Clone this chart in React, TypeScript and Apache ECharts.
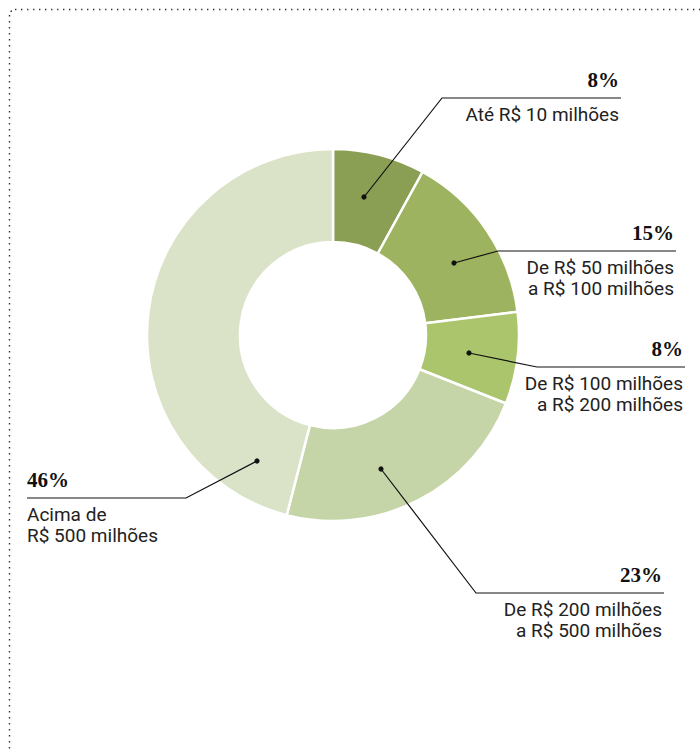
import React, { useEffect, useRef } from "react";
import * as echarts from "echarts";

// ---- data ----
const categories = [
  "Até R$ 10 milhões",
  "De R$ 50 milhões\na R$ 100 milhões",
  "De R$ 100 milhões\na R$ 200 milhões",
  "De R$ 200 milhões\na R$ 500 milhões",
  "Acima de\nR$ 500 milhões",
];
const values = [8, 15, 8, 23, 46];
const colors = ["#8a9e54", "#9eb35f", "#abc56c", "#c6d5a8", "#dae2c8"];

// ---- annotation layout (leader lines) ----
const annotations = [
  { dot: [364, 197], elbow: [442, 98], end: 621, side: "right" },
  { dot: [454, 263], elbow: [498, 251], end: 676, side: "right" },
  { dot: [469, 353], elbow: [537, 367], end: 685, side: "right" },
  { dot: [381, 469], elbow: [476, 593], end: 664, side: "right" },
  { dot: [257, 461], elbow: [186, 498], end: 27, side: "left" },
];

export default function App() {
  const ref = useRef<HTMLDivElement>(null);
  useEffect(() => {
    if (!ref.current) return;
    const chart = echarts.init(ref.current, null, { renderer: "svg" });
    const borderStyle = { fill: "none", stroke: "#333", lineWidth: 1.4, lineDash: [1.4, 4.6] };
    const option: any = {
      animation: false,
      backgroundColor: "#ffffff",
      graphic: [
        {
          type: "line",
          silent: true,
          shape: { x1: 9.5, y1: 15, x2: 9.5, y2: 753 },
          style: borderStyle,
        },
        {
          type: "line",
          silent: true,
          shape: { x1: 15, y1: 9.5, x2: 700, y2: 9.5 },
          style: borderStyle,
        },
        {
          type: "circle",
          silent: true,
          shape: { cx: 11.2, cy: 11.2, r: 0.8 },
          style: { fill: "#333" },
        },
        ...annotations.map((a) => ({
          type: "polyline",
          silent: true,
          shape: { points: [a.dot, a.elbow, [a.end, a.elbow[1]]] },
          style: { fill: "none", stroke: "#111", lineWidth: 1.2 },
          z: 100,
        })),
        ...annotations.map((a) => ({
          type: "circle",
          silent: true,
          shape: { cx: a.dot[0], cy: a.dot[1], r: 2.6 },
          style: { fill: "#111" },
          z: 101,
        })),
      ],
      series: [
        {
          type: "pie",
          center: [333, 335],
          radius: [93, 186],
          startAngle: 90,
          clockwise: true,
          avoidLabelOverlap: false,
          emphasis: { disabled: true },
          itemStyle: { borderColor: "#ffffff", borderWidth: 2.5 },
          label: {
            show: true,
            position: "outside",
            formatter: (p: any) => `{pct|${p.value}%}\n{desc|${p.name}}`,
            rich: {
              pct: {
                fontFamily: "Liberation Serif",
                fontWeight: "bold",
                fontSize: 21,
                lineHeight: 48,
                color: "#111",
              },
              desc: {
                fontFamily: "Roboto",
                fontSize: 19,
                lineHeight: 21,
                color: "#222",
              },
            },
          },
          labelLine: { show: false },
          labelLayout: (params: any) => {
            const a = annotations[params.dataIndex];
            const lineY = a.elbow[1];
            const right = a.side === "right";
            return {
              x: right ? a.end - 2 : a.end,
              y: lineY - 42.5,
              align: right ? "right" : "left",
              verticalAlign: "top",
            };
          },
          data: categories.map((name, i) => ({
            name,
            value: values[i],
            itemStyle: { color: colors[i] },
          })),
        },
      ],
    };
    chart.setOption(option);
    return () => chart.dispose();
  }, []);
  return (
    <div
      ref={ref}
      style={{ position: "fixed", left: 0, top: 0, width: 700, height: 753 }}
    />
  );
}
